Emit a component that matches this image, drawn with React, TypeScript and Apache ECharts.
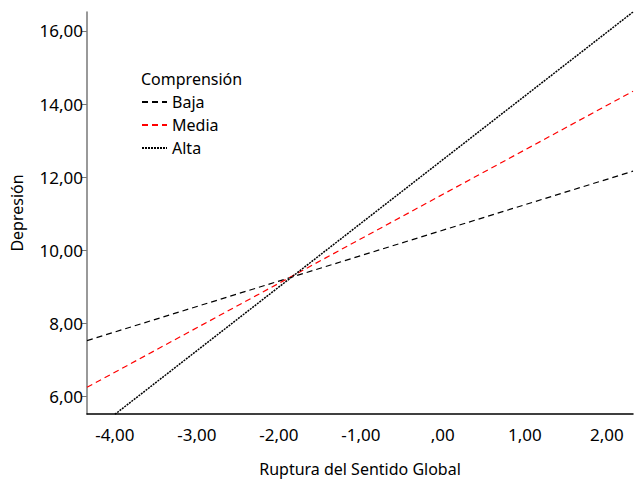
import React, { useEffect, useRef } from "react";
import * as echarts from "echarts";

const seriesNames = ["Baja", "Media", "Alta"];
const bajaLine = [[-4.34, 7.52], [2.32, 12.16]];
const mediaLine = [[-4.34, 6.24], [2.32, 14.35]];
const altaLine = [[-4.0, 5.5], [2.32, 16.52]];
const yTicks = [6, 8, 10, 12, 14, 16];
const xTicks = [-4, -3, -2, -1, 0, 1, 2];

const FONT = "Noto Sans";

const fmt = (v: number) => {
  let s = v.toFixed(2).replace(".", ",");
  if (s.startsWith("0,")) s = s.slice(1);
  if (s.startsWith("-0,")) s = "-" + s.slice(2);
  return s;
};

export default function App() {
  const ref = useRef<HTMLDivElement>(null);
  useEffect(() => {
    const chart = echarts.init(ref.current!, null, { renderer: "svg" });
    chart.setOption({
      animation: false,
      textStyle: { fontFamily: FONT, color: "#000" },
      grid: { left: 87, right: 1, top: 12, bottom: 65, containLabel: false },
      xAxis: {
        type: "value",
        min: -4.34,
        max: 2.32,
        name: "Ruptura del Sentido Global",
        nameLocation: "middle",
        nameGap: 47,
        nameTextStyle: { fontSize: 16, color: "#000", fontFamily: FONT },
        splitLine: { show: false },
        axisLine: { show: true, onZero: false, lineStyle: { color: "#000", width: 1.5 } },
        axisTick: { show: false },
        axisLabel: {
          customValues: xTicks,
          formatter: (v: number) => fmt(v),
          fontSize: 17,
          color: "#000",
          margin: 12,
          fontFamily: FONT,
        },
      },
      yAxis: {
        type: "value",
        min: 5.51,
        max: 16.52,
        name: "Depresión",
        nameLocation: "middle",
        nameGap: 62,
        nameRotate: 90,
        nameTextStyle: { fontSize: 16, color: "#000", fontFamily: FONT },
        splitLine: { show: false },
        axisLine: { show: true, onZero: false, lineStyle: { color: "#777", width: 1.5 } },
        axisTick: { show: true, customValues: yTicks, length: 5, lineStyle: { color: "#777" } },
        axisLabel: {
          customValues: yTicks,
          formatter: (v: number) => fmt(v),
          fontSize: 17,
          color: "#000",
          margin: 4,
          fontFamily: FONT,
        },
      },
      legend: {
        orient: "vertical",
        left: 136,
        top: 89,
        itemWidth: 25,
        itemHeight: 14,
        itemGap: 7,
        data: seriesNames,
        itemStyle: { opacity: 0 },
        textStyle: { fontSize: 16, color: "#000", fontFamily: FONT },
      },
      graphic: [
        {
          type: "text",
          left: 141,
          top: 71,
          style: { text: "Comprensión", fontSize: 16, fill: "#000", fontFamily: FONT },
        },
      ],
      series: [
        {
          name: seriesNames[0],
          type: "line",
          data: bajaLine,
          symbol: "none",
          lineStyle: { color: "#000", width: 1.2, type: [6, 4] },
          itemStyle: { color: "#000" },
        },
        {
          name: seriesNames[1],
          type: "line",
          data: mediaLine,
          symbol: "none",
          lineStyle: { color: "#ff0000", width: 1.2, type: [6, 4] },
          itemStyle: { color: "#ff0000" },
        },
        {
          name: seriesNames[2],
          type: "line",
          data: altaLine,
          symbol: "none",
          lineStyle: { color: "#000", width: 1.5, type: [2, 1] },
          itemStyle: { color: "#000" },
        },
      ],
    });
    return () => chart.dispose();
  }, []);
  return <div ref={ref} style={{ width: 634, height: 482, position: "absolute", left: 0, top: 0 }} />;
}
